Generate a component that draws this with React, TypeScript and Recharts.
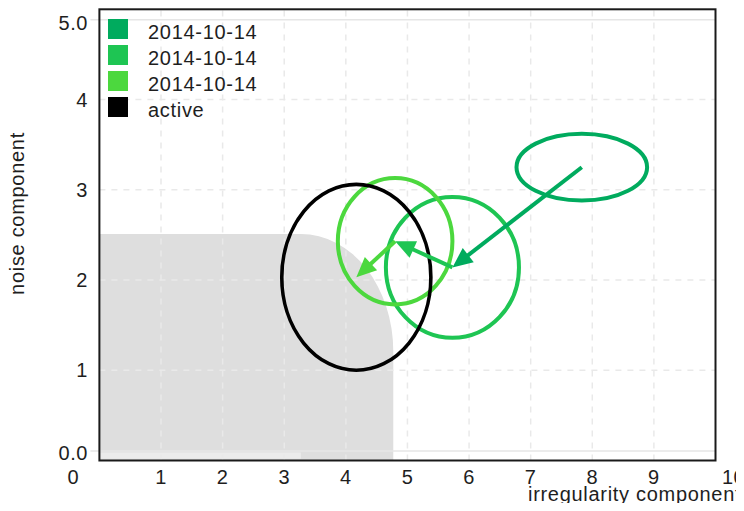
import React from 'react';
import { ScatterChart, Scatter, XAxis, YAxis, ReferenceArea, ReferenceLine } from 'recharts';

// axes
const xTicks = [0, 1, 2, 3, 4, 5, 6, 7, 8, 9, 10];
const xTickLabels = ['0', '1', '2', '3', '4', '5', '6', '7', '8', '9', '10'];
const yTicks = [0, 1, 2, 3, 4, 5];
const yTickLabels = ['0.0', '1', '2', '3', '4', '5.0'];
const innerGridX = [1, 2, 3, 4, 5, 6, 7, 8, 9];
const innerGridY = [1, 2, 3, 4];
const edgeGridY = [0.105, 4.885];

// series: ellipse centre and half-widths
const seriesNames = ['2014-10-14', '2014-10-14', '2014-10-14', 'active'];
const seriesColors = ['#00ab5e', '#1ec553', '#4cd83e', '#000000'];
const centerX = [7.83, 5.73, 4.8, 4.17];
const centerY = [3.25, 2.14, 2.43, 2.03];
const spreadX = [1.06, 1.08, 0.93, 1.21];
const spreadY = [0.37, 0.78, 0.7, 1.03];

// grey zone (rounded at the top-right corner)
const zoneX = 4.77;
const zoneY = 2.51;
const zoneCornerX = 1.5;
const zoneCornerY = 1.3;
const stripX = 3.27;
const stripY = [0.02, 0.09];

const FONT = '"Liberation Sans", Arial, sans-serif';
const TEXT = '#1e1e1e';

const centers = centerX.map((x, i) => ({ x, y: centerY[i] }));

function XTick(props: any) {
  const { x, y, payload } = props;
  const i = xTicks.indexOf(payload.value);
  const shift = i === 0 ? -26 : i === xTicks.length - 1 ? 18 : 0;
  return (
    <text x={x + shift} y={y + 16.5} textAnchor="middle" dominantBaseline="central"
      fontFamily={FONT} fontSize={20} letterSpacing={0.5} fill={TEXT}>
      {xTickLabels[i]}
    </text>
  );
}

function YTick(props: any) {
  const { x, y, payload } = props;
  const i = yTicks.indexOf(payload.value);
  const shift = i === 0 ? -7.5 : i === yTicks.length - 1 ? 14 : 0;
  return (
    <text x={x - 11.5} y={y + shift} textAnchor="end" dominantBaseline="central"
      fontFamily={FONT} fontSize={20} letterSpacing={0.5} fill={TEXT}>
      {yTickLabels[i]}
    </text>
  );
}

function ZoneShape(props: any) {
  const { x, y, width, height, fill } = props;
  const rx = width * (zoneCornerX / zoneX);
  const ry = height * (zoneCornerY / zoneY);
  const d = `M${x},${y + height} L${x},${y} L${x + width - rx},${y} A${rx},${ry} 0 0 1 ${x + width},${y + ry} L${x + width},${y + height} Z`;
  return <path d={d} fill={fill} stroke="none" />;
}

function EllipseShape(props: any) {
  const { x1, y1, x2, y2, stroke } = props;
  return (
    <ellipse cx={(x1 + x2) / 2} cy={(y1 + y2) / 2} rx={Math.abs(x2 - x1) / 2} ry={Math.abs(y2 - y1) / 2}
      fill="none" stroke={stroke} strokeWidth={stroke === '#000000' ? 3.6 : 4} />
  );
}

function ArrowShape(props: any) {
  const { x1, y1, x2, y2, stroke } = props;
  const len = Math.hypot(x2 - x1, y2 - y1) || 1;
  const ux = (x2 - x1) / len;
  const uy = (y2 - y1) / len;
  const head = 20;
  const half = 9;
  const bx = x2 - ux * head;
  const by = y2 - uy * head;
  const pts = `${x2},${y2} ${bx - uy * half},${by + ux * half} ${bx + uy * half},${by - ux * half}`;
  return (
    <g>
      <line x1={x1} y1={y1} x2={x2 - ux * (head - 2)} y2={y2 - uy * (head - 2)} stroke={stroke} strokeWidth={4} />
      <polygon points={pts} fill={stroke} />
    </g>
  );
}

function FrameShape(props: any) {
  const { x1, y1, x2, y2 } = props;
  return (
    <rect x={Math.min(x1, x2)} y={Math.min(y1, y2)} width={Math.abs(x2 - x1)} height={Math.abs(y2 - y1)}
      fill="none" stroke="#1a1a1a" strokeWidth={2} />
  );
}

function EdgeGridShape(props: any) {
  const { x1, y1, x2 } = props;
  return <line x1={Math.min(x1, x2) - 9} y1={y1} x2={Math.max(x1, x2)} y2={y1} stroke="#e6e6e6" strokeWidth={1.5} />;
}

function XTitle(props: any) {
  const { viewBox } = props;
  return (
    <text x={viewBox.x + viewBox.width - 187.5} y={viewBox.y + 40.5} textAnchor="start"
      fontFamily={FONT} fontSize={20} letterSpacing={0.7} fill={TEXT}>
      irregularity component
    </text>
  );
}

function YTitle(props: any) {
  const { viewBox } = props;
  const cx = viewBox.x + 9;
  const cy = 205.5;
  return (
    <text x={cx} y={cy} transform={`rotate(-90, ${cx}, ${cy})`} textAnchor="middle" dominantBaseline="central"
      fontFamily={FONT} fontSize={20} letterSpacing={0.7} fill={TEXT}>
      noise component
    </text>
  );
}

function LegendBox() {
  return (
    <div style={{ position: 'absolute', left: 100, top: 11, fontFamily: FONT }}>
      {seriesNames.map((name, i) => (
        <div key={i} style={{ display: 'flex', alignItems: 'center', height: 20, marginBottom: 6 }}>
          <span style={{ display: 'inline-block', width: 20, height: 20, background: seriesColors[i] }} />
          <span style={{ marginLeft: 20, fontSize: 20, lineHeight: '20px', letterSpacing: 0.7, color: TEXT, position: 'relative', top: 3 }}>
            {name}
          </span>
        </div>
      ))}
    </div>
  );
}

export default function App() {
  return (
    <div style={{ position: 'relative', width: 736, height: 495 }}>
      <style>{'html{overflow:hidden}svg.recharts-surface{overflow:visible}'}</style>
      <ScatterChart width={736} height={495} margin={{ top: 1.3, right: 28.5, bottom: 0, left: 0 }}>
        <XAxis type="number" dataKey="x" domain={[0, 10]} ticks={xTicks} interval={0}
          tick={<XTick />} tickSize={0} tickMargin={0} tickLine={false} axisLine={false} height={42.5}
          label={<XTitle />} />
        <YAxis type="number" dataKey="y" domain={[0, 5]} ticks={yTicks} interval={0}
          tick={<YTick />} tickSize={0} tickMargin={0} tickLine={false} axisLine={false} width={91.4}
          label={<YTitle />} />

        <ReferenceArea x1={0} x2={zoneX} y1={0} y2={zoneY} fill="#dedede" fillOpacity={1} shape={<ZoneShape />} />
        <ReferenceArea x1={0} x2={stripX} y1={stripY[0]} y2={stripY[1]} fill="#ebebeb" fillOpacity={1} />

        {innerGridX.map((v) => (
          <ReferenceLine key={`gx${v}`} x={v} stroke="#e9e9e9" strokeWidth={1.5} strokeDasharray="6 6" />
        ))}
        {innerGridY.map((v) => (
          <ReferenceLine key={`gy${v}`} y={v} stroke="#e9e9e9" strokeWidth={1.5} strokeDasharray="6 6" />
        ))}
        {edgeGridY.map((v) => (
          <ReferenceLine key={`ge${v}`} y={v} shape={<EdgeGridShape />} />
        ))}

        {seriesNames.map((name, i) => (
          <ReferenceLine key={`e${i}`} stroke={seriesColors[i]} shape={<EllipseShape />}
            segment={[
              { x: centerX[i] - spreadX[i], y: centerY[i] - spreadY[i] },
              { x: centerX[i] + spreadX[i], y: centerY[i] + spreadY[i] },
            ]} />
        ))}
        {seriesNames.slice(0, -1).map((name, i) => (
          <ReferenceLine key={`a${i}`} stroke={seriesColors[i]} shape={<ArrowShape />}
            segment={[
              { x: centerX[i], y: centerY[i] },
              { x: centerX[i + 1], y: centerY[i + 1] },
            ]} />
        ))}

        <ReferenceLine segment={[{ x: 0, y: 0 }, { x: 10, y: 5 }]} shape={<FrameShape />} />

        <Scatter name="centres" data={centers} isAnimationActive={false} shape={() => <g />} />
      </ScatterChart>
      <LegendBox />
    </div>
  );
}
